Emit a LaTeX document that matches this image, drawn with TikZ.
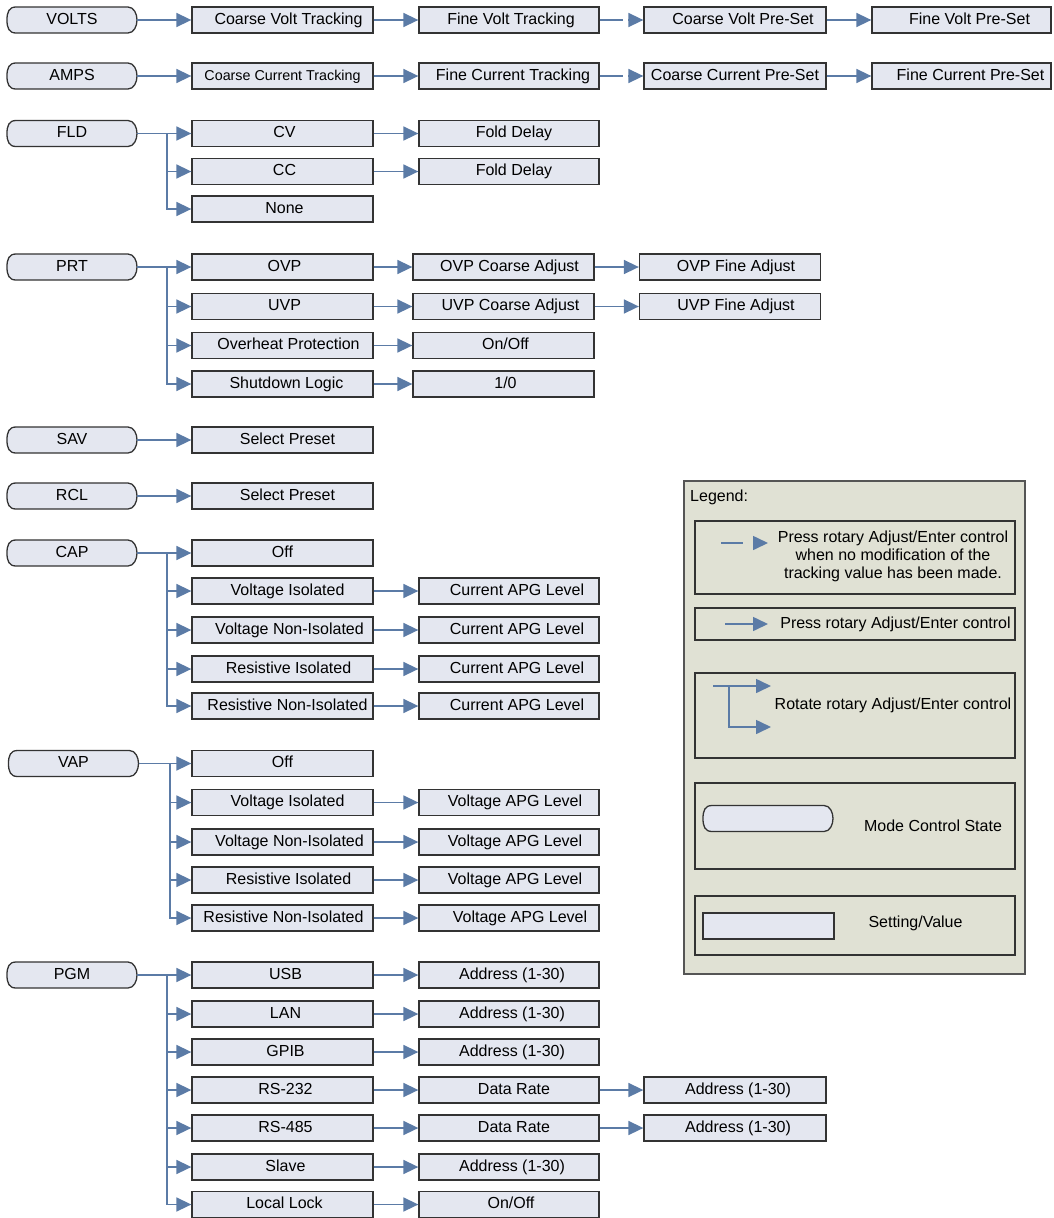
\documentclass[tikz,border=0pt]{standalone}
\usepackage{fontspec}
\setmainfont{Liberation Sans}
\usetikzlibrary{arrows.meta,calc}
\definecolor{boxfill}{HTML}{E4E7F0}
\definecolor{boxdraw}{HTML}{333333}
\definecolor{connc}{HTML}{5B7BA6}
\definecolor{legfill}{HTML}{E0E1D4}
\definecolor{legdraw}{HTML}{555555}
\newcommand\myfs{\fontsize{16}{18}\selectfont}
\newcommand\mysmallfs{\fontsize{14.3}{17}\selectfont}
\newcommand\modenode[3]{%
  \coordinate (#1c) at (#2);
  \draw[modeline] ($(#1c)+(-56,-13)$) -- ($(#1c)+(56,-13)$)
    .. controls ($(#1c)+(62,-13)$) and ($(#1c)+(65,-6)$) .. ($(#1c)+(65,0)$)
    .. controls ($(#1c)+(65,6)$) and ($(#1c)+(62,13)$) .. ($(#1c)+(56,13)$)
    -- ($(#1c)+(-56,13)$)
    .. controls ($(#1c)+(-63,13)$) and ($(#1c)+(-65,8)$) .. ($(#1c)+(-65,0)$)
    .. controls ($(#1c)+(-65,-8)$) and ($(#1c)+(-63,-13)$) .. cycle;
  \node[modetext] (#1) at (#1c) {#3};}
\begin{document}
\begin{tikzpicture}[x=1pt,y=-1pt,
  box/.style={draw=boxdraw, fill=boxfill, line width=1.3pt, minimum width=181pt,
    minimum height=26pt, inner sep=0pt, text height=11.5pt, text depth=3.5pt, font=\myfs},
  txs/.style={execute at begin node={\hspace*{#1pt}\hspace*{#1pt}}},
  modeline/.style={draw=boxdraw, fill=boxfill, line width=1.3pt},
  modetext/.style={minimum width=130pt, minimum height=26pt, inner sep=0pt,
    text height=11.5pt, text depth=3.5pt, font=\myfs},
  conn/.style={draw=connc, line width=1.6pt},
  arr/.style={conn, -{Triangle[length=15pt,width=14pt]}},
  legbox/.style={draw=legdraw, fill=legfill, line width=1.3pt, inner sep=0pt,
    minimum width=341pt, minimum height=493pt},
  lbox/.style={draw=boxdraw, fill=legfill, line width=1.3pt, inner sep=0pt, minimum width=320pt},
  ltext/.style={font=\myfs, inner sep=0pt, text height=11.5pt, text depth=3.5pt}
]
\useasboundingbox (0,0) rectangle (1053,1218);

% ---------- VOLTS ----------
\modenode{volts}{72,20}{VOLTS}
\node[box, txs=6] (v1) at (282.5,20) {Coarse Volt Tracking};
\node[box, txs=2, minimum width=180pt] (v2) at (509,20) {Fine Volt Tracking};
\node[box, txs=8, minimum width=182pt] (v3) at (735,20) {Coarse Volt Pre-Set};
\node[box, txs=8, minimum width=179pt] (v4) at (961.5,20) {Fine Volt Pre-Set};
\draw[arr] (volts.east) -- (v1.west);
\draw[arr] (v1.east) -- (v2.west);
\draw[conn] (v2.east) -- ++(23,0);
\draw[arr] ($(v3.west)+(-15,0)$) -- (v3.west);
\draw[arr] (v3.east) -- (v4.west);

% ---------- AMPS ----------
\modenode{amps}{72,76}{AMPS}
\node[box, font=\mysmallfs] (a1) at (282.5,76) {Coarse Current Tracking};
\node[box, txs=4, minimum width=180pt] (a2) at (509,76) {Fine Current Tracking};
\node[box, minimum width=182pt] (a3) at (735,76) {Coarse Current Pre-Set};
\node[box, txs=9, minimum width=179pt] (a4) at (961.5,76) {Fine Current Pre-Set};
\draw[arr] (amps.east) -- (a1.west);
\draw[arr] (a1.east) -- (a2.west);
\draw[conn] (a2.east) -- ++(23,0);
\draw[arr] ($(a3.west)+(-15,0)$) -- (a3.west);
\draw[arr] (a3.east) -- (a4.west);

% ---------- FLD ----------
\modenode{fld}{72,133.5}{FLD}
\node[box, txs=2] (f1) at (282.5,133.5) {CV};
\node[box, txs=2] (f2) at (282.5,171.5) {CC};
\node[box, txs=2] (f3) at (282.5,209) {None};
\node[box, txs=5, minimum width=180pt] (f1b) at (509,133.5) {Fold Delay};
\node[box, txs=5, minimum width=180pt] (f2b) at (509,171.5) {Fold Delay};
\draw[conn] (fld.east) -- ++(30,0) coordinate (fldj);
\draw[arr] (fldj) |- (f1.west);
\draw[arr] (fldj) |- (f2.west);
\draw[arr] (fldj) |- (f3.west);
\draw[arr] (f1.east) -- (f1b.west);
\draw[arr] (f2.east) -- (f2b.west);

% ---------- PRT ----------
\modenode{prt}{72,267}{PRT}
\node[box, txs=2] (p1) at (282.5,267) {OVP};
\node[box, txs=2] (p2) at (282.5,306.5) {UVP};
\node[box, txs=6] (p3) at (282.5,345.5) {Overheat Protection};
\node[box, txs=4] (p4) at (282.5,384) {Shutdown Logic};
\node[box, txs=6] (p1b) at (503.5,267) {OVP Coarse Adjust};
\node[box, txs=7] (p2b) at (503.5,306.5) {UVP Coarse Adjust};
\node[box, txs=2] (p3b) at (503.5,345.5) {On/Off};
\node[box, txs=2] (p4b) at (503.5,384) {1/0};
\node[box, txs=6] (p1c) at (730,267) {OVP Fine Adjust};
\node[box, txs=6] (p2c) at (730,306.5) {UVP Fine Adjust};
\draw[conn] (prt.east) -- ++(30,0) coordinate (prtj);
\draw[arr] (prtj) |- (p1.west);
\draw[arr] (prtj) |- (p2.west);
\draw[arr] (prtj) |- (p3.west);
\draw[arr] (prtj) |- (p4.west);
\draw[arr] (p1.east) -- (p1b.west);
\draw[arr] (p2.east) -- (p2b.west);
\draw[arr] (p3.east) -- (p3b.west);
\draw[arr] (p4.east) -- (p4b.west);
\draw[arr] (p1b.east) -- (p1c.west);
\draw[arr] (p2b.east) -- (p2c.west);

% ---------- SAV / RCL ----------
\modenode{sav}{72,440}{SAV}
\node[box, txs=5] (s1) at (282.5,440) {Select Preset};
\draw[arr] (sav.east) -- (s1.west);
\modenode{rcl}{72,496}{RCL}
\node[box, txs=5] (r1) at (282.5,496) {Select Preset};
\draw[arr] (rcl.east) -- (r1.west);

% ---------- CAP ----------
\modenode{cap}{72,553}{CAP}
\node[box] (c1) at (282.5,553) {Off};
\node[box, txs=5] (c2) at (282.5,591) {Voltage Isolated};
\node[box, txs=7] (c3) at (282.5,630) {Voltage Non-Isolated};
\node[box, txs=6] (c4) at (282.5,669) {Resistive Isolated};
\node[box, txs=5] (c5) at (282.5,706) {Resistive Non-Isolated};
\node[box, txs=8, minimum width=180pt] (c2b) at (509,591) {Current APG Level};
\node[box, txs=8, minimum width=180pt] (c3b) at (509,630) {Current APG Level};
\node[box, txs=8, minimum width=180pt] (c4b) at (509,669) {Current APG Level};
\node[box, txs=8, minimum width=180pt] (c5b) at (509,706) {Current APG Level};
\draw[conn] (cap.east) -- ++(30,0) coordinate (capj);
\draw[arr] (capj) |- (c1.west);
\draw[arr] (capj) |- (c2.west);
\draw[arr] (capj) |- (c3.west);
\draw[arr] (capj) |- (c4.west);
\draw[arr] (capj) |- (c5.west);
\draw[arr] (c2.east) -- (c2b.west);
\draw[arr] (c3.east) -- (c3b.west);
\draw[arr] (c4.east) -- (c4b.west);
\draw[arr] (c5.east) -- (c5b.west);

% ---------- VAP ----------
\modenode{vap}{73.5,763.5}{VAP}
\node[box] (w1) at (282.5,763.5) {Off};
\node[box, txs=5] (w2) at (282.5,802.5) {Voltage Isolated};
\node[box, txs=7] (w3) at (282.5,842) {Voltage Non-Isolated};
\node[box, txs=6] (w4) at (282.5,880) {Resistive Isolated};
\node[box, txs=1] (w5) at (282.5,918) {Resistive Non-Isolated};
\node[box, txs=6, minimum width=180pt] (w2b) at (509,802.5) {Voltage APG Level};
\node[box, txs=6, minimum width=180pt] (w3b) at (509,842) {Voltage APG Level};
\node[box, txs=6, minimum width=180pt] (w4b) at (509,880) {Voltage APG Level};
\node[box, txs=11, minimum width=180pt] (w5b) at (509,918) {Voltage APG Level};
\draw[conn] (vap.east) -- ++(31,0) coordinate (vapj);
\draw[arr] (vapj) |- (w1.west);
\draw[arr] (vapj) |- (w2.west);
\draw[arr] (vapj) |- (w3.west);
\draw[arr] (vapj) |- (w4.west);
\draw[arr] (vapj) |- (w5.west);
\draw[arr] (w2.east) -- (w2b.west);
\draw[arr] (w3.east) -- (w3b.west);
\draw[arr] (w4.east) -- (w4b.west);
\draw[arr] (w5.east) -- (w5b.west);

% ---------- PGM ----------
\modenode{pgm}{72,975}{PGM}
\node[box, txs=3] (g1) at (282.5,975) {USB};
\node[box, txs=3] (g2) at (282.5,1014) {LAN};
\node[box, txs=3] (g3) at (282.5,1052) {GPIB};
\node[box, txs=3] (g4) at (282.5,1090) {RS-232};
\node[box, txs=3] (g5) at (282.5,1128) {RS-485};
\node[box, txs=3] (g6) at (282.5,1167) {Slave};
\node[box, txs=2] (g7) at (282.5,1204.5) {Local Lock};
\node[box, txs=3, minimum width=180pt] (g1b) at (509,975) {Address (1-30)};
\node[box, txs=3, minimum width=180pt] (g2b) at (509,1014) {Address (1-30)};
\node[box, txs=3, minimum width=180pt] (g3b) at (509,1052) {Address (1-30)};
\node[box, txs=5, minimum width=180pt] (g4b) at (509,1090) {Data Rate};
\node[box, txs=5, minimum width=180pt] (g5b) at (509,1128) {Data Rate};
\node[box, txs=3, minimum width=180pt] (g6b) at (509,1167) {Address (1-30)};
\node[box, txs=2, minimum width=180pt] (g7b) at (509,1204.5) {On/Off};
\node[box, txs=3, minimum width=182pt] (g4c) at (735,1090) {Address (1-30)};
\node[box, txs=3, minimum width=182pt] (g5c) at (735,1128) {Address (1-30)};
\draw[conn] (pgm.east) -- ++(30,0) coordinate (pgmj);
\foreach \n in {g1,g2,g3,g4,g5,g6,g7} {\draw[arr] (pgmj) |- (\n.west);}
\foreach \n in {g1,g2,g3,g4,g5,g6,g7} {\draw[arr] (\n.east) -- (\n b.west);}
\draw[arr] (g4b.east) -- (g4c.west);
\draw[arr] (g5b.east) -- (g5c.west);

% ---------- Legend ----------
\node[legbox] (legend) at (854.5,727.5) {};
\node[ltext, anchor=west] (legtitle) at (690,497) {Legend:};
\node[lbox, minimum height=73pt] (lb1) at (855,557.5) {};
\node[lbox, minimum height=32pt] (lb2) at (855,624) {};
\node[lbox, minimum height=85pt] (lb3) at (855,715.5) {};
\node[lbox, minimum height=86pt] (lb4) at (855,826) {};
\node[lbox, minimum height=59pt] (lb5) at (855,925.5) {};

\node[font=\myfs, align=center, inner sep=0pt] (lt1) at (893,556)
  {Press rotary Adjust/Enter control\\when no modification of the\\tracking value has been made.};
\coordinate (l1a) at (721,543);
\coordinate (l1b) at (743,543);
\coordinate (l1c) at (753,543);
\coordinate (l1d) at (768,543);
\draw[conn] (l1a) -- (l1b);
\draw[arr] (l1c) -- (l1d);

\node[ltext] (lt2) at (895.5,624) {Press rotary Adjust/Enter control};
\coordinate (l2a) at (725,624);
\coordinate (l2b) at (768,624);
\draw[arr] (l2a) -- (l2b);

\node[ltext] (lt3) at (893,705) {Rotate rotary Adjust/Enter control};
\coordinate (l3a) at (713,686);
\coordinate (l3b) at (771,686);
\coordinate (l3j) at (729,686);
\coordinate (l3c) at (771,727);
\draw[arr] (l3a) -- (l3b);
\draw[arr] (l3j) |- (l3c);

\modenode{lmode}{768,818.5}{}
\node[ltext] (lt4) at (933,827) {Mode Control State};

\node[box, minimum width=131pt] (lset) at (768.5,926) {};
\node[ltext] (lt5) at (915.5,923) {Setting/Value};
\end{tikzpicture}
\end{document}
